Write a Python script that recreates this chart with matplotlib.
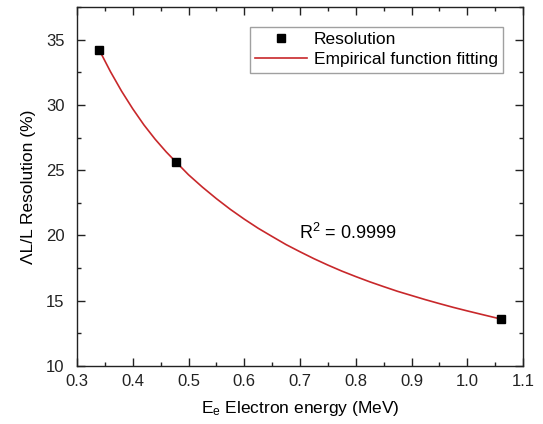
import numpy as np
import matplotlib
matplotlib.use("Agg")
import matplotlib.pyplot as plt
from matplotlib.ticker import MultipleLocator

plt.rcParams['font.family'] = ['Liberation Sans', 'DejaVu Sans']
plt.rcParams['mathtext.fontset'] = 'custom'
plt.rcParams['mathtext.rm'] = 'Liberation Sans'
plt.rcParams['mathtext.it'] = 'Liberation Sans:italic'

# measured points
energy = [0.340, 0.477, 1.060]
resolution = [34.2, 25.65, 13.6]

# fitted curve
fit_x = [0.34, 0.36, 0.38, 0.40, 0.42, 0.44, 0.46, 0.48, 0.50, 0.525, 0.55,
         0.575, 0.60, 0.625, 0.65, 0.675, 0.70, 0.725, 0.75, 0.775, 0.80,
         0.825, 0.85, 0.875, 0.90, 0.925, 0.95, 0.975, 1.00, 1.025, 1.06]
fit_y = [34.2, 32.55, 31.05, 29.7, 28.47, 27.38, 26.4, 25.52, 24.65, 23.7, 22.82,
         22.0, 21.25, 20.55, 19.92, 19.3, 18.75, 18.22, 17.73, 17.27, 16.85,
         16.45, 16.08, 15.72, 15.4, 15.08, 14.78, 14.49, 14.22, 13.96, 13.6]

fig = plt.figure(figsize=(5.43, 4.24), dpi=100)
ax = fig.add_axes([0.1418, 0.1368, 0.8214, 0.8467])

ax.plot(fit_x, fit_y, color='#c8282b', lw=1.2, label='Empirical function fitting', zorder=2)
ax.plot(energy, resolution, 's', color='black', ms=5.5, label='Resolution', zorder=3)

ax.set_xlim(0.3, 1.1)
ax.set_ylim(10, 37.5)
ax.xaxis.set_major_locator(MultipleLocator(0.1))
ax.xaxis.set_minor_locator(MultipleLocator(0.05))
ax.yaxis.set_major_locator(MultipleLocator(5))
ax.yaxis.set_minor_locator(MultipleLocator(2.5))
ax.xaxis.set_major_formatter(matplotlib.ticker.FormatStrFormatter('%.1f'))

ax.tick_params(which='both', direction='in', top=True, right=True, width=1.0, colors='#222222')
ax.tick_params(which='major', length=6, labelsize=12)
ax.tick_params(axis='x', which='major', pad=6)
ax.tick_params(axis='y', which='major', pad=9)
ax.tick_params(which='minor', length=3)
for s in ax.spines.values():
    s.set_linewidth(1.0)
    s.set_color('#222222')

ax.set_xlabel(r'$\mathregular{E_e}$ Electron energy (MeV)', fontsize=12.5, labelpad=7)
ax.set_ylabel('ΛL/L Resolution (%)', fontsize=12.5, labelpad=7)

handles, labels = ax.get_legend_handles_labels()
leg = ax.legend(handles[::-1], labels[::-1], loc='upper right', bbox_to_anchor=(0.955, 0.945),
                fontsize=12.5, frameon=True, fancybox=False, borderpad=0.3,
                labelspacing=0.3, handlelength=3.0, handletextpad=0.4, borderaxespad=0)
leg.get_frame().set_edgecolor('#888888')
leg.get_frame().set_linewidth(1.0)

ax.text(0.498, 0.37, r'$\mathregular{R^2}$ = 0.9999', transform=ax.transAxes,
        fontsize=13, va='center', ha='left')

plt.savefig('out.png', dpi=100)
